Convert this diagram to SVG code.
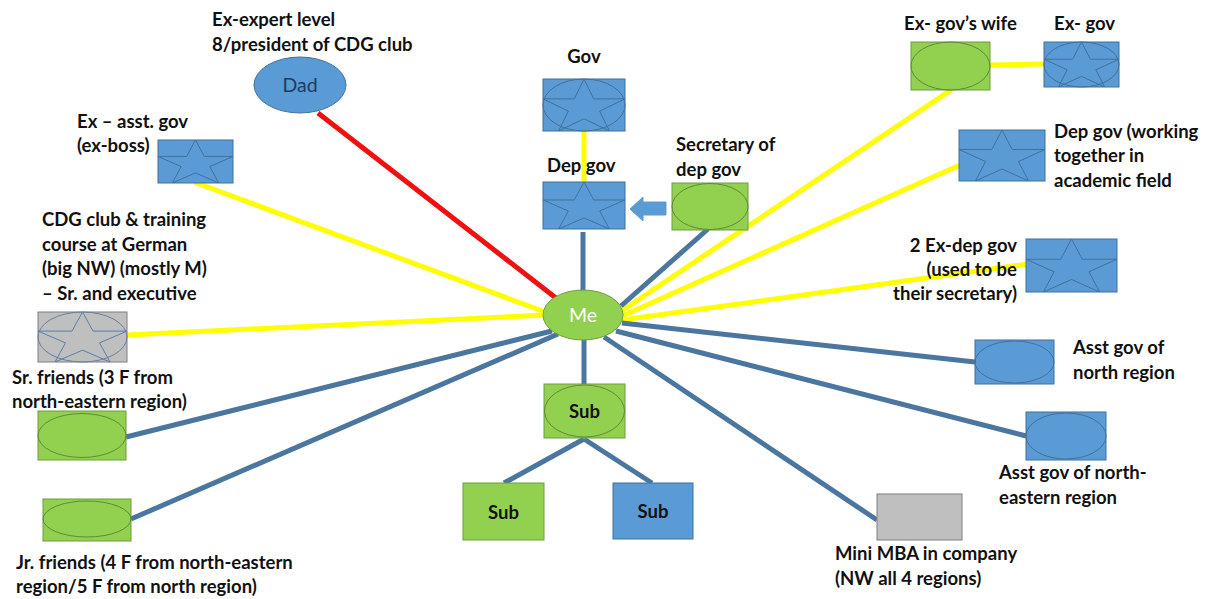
<svg xmlns="http://www.w3.org/2000/svg" xmlns:xlink="http://www.w3.org/1999/xlink" width="1208" height="599" viewBox="0 0 1208 599">
  <defs>
    <style>
      .lbl { font-family: "Lato", "Liberation Sans", sans-serif; font-weight: bold; font-size: 18.5px; fill: #111; }
      .blue { fill: #5B9BD5; stroke: #41719C; stroke-width: 1; }
      .green { fill: #92D050; stroke: #6E9C3E; stroke-width: 1; }
      .gray { fill: #BFBFBF; stroke: #7F7F7F; stroke-width: 1; }
      .oblue { fill: none; stroke: #41719C; stroke-width: 1; }
      .ogreen { fill: none; stroke: #5E8A3A; stroke-width: 1; }
      .ogray { fill: none; stroke: #6A7F9A; stroke-width: 1; }
      .y { stroke: #FFFF00; stroke-width: 5; }
      .b { stroke: #4A76A0; stroke-width: 5; }
      .r { stroke: #F01010; stroke-width: 5; }
    </style>
    <!-- five-point star stretched to fill its box -->
    <symbol id="star" viewBox="0 0 1 1" preserveAspectRatio="none">
      <path d="M0.5,0 L0.618,0.382 L1,0.382 L0.691,0.618 L0.809,1 L0.5,0.764 L0.191,1 L0.309,0.618 L0,0.382 L0.382,0.382 Z" fill="none" stroke="#41719C" stroke-width="1" vector-effect="non-scaling-stroke"/>
    </symbol>
    <symbol id="stargray" viewBox="0 0 1 1" preserveAspectRatio="none">
      <path d="M0.5,0 L0.618,0.382 L1,0.382 L0.691,0.618 L0.809,1 L0.5,0.764 L0.191,1 L0.309,0.618 L0,0.382 L0.382,0.382 Z" fill="none" stroke="#5A7FA8" stroke-width="1" vector-effect="non-scaling-stroke"/>
    </symbol>
  </defs>

  <rect width="1208" height="599" fill="#FFFFFF"/>

  <!-- connectors -->
  <g id="connectors" fill="none">
    <line class="r" x1="318" y1="113" x2="556" y2="298"/>
    <line class="y" x1="194" y1="182" x2="545" y2="312"/>
    <line class="y" x1="127" y1="335" x2="545" y2="315"/>
    <line class="y" x1="584" y1="131" x2="584" y2="183"/>
    <line class="y" x1="990" y1="65" x2="1044" y2="64"/>
    <line class="y" x1="951" y1="90" x2="620" y2="312"/>
    <line class="y" x1="960" y1="165" x2="622" y2="316"/>
    <line class="y" x1="1028" y1="264" x2="622" y2="320"/>
    <line class="b" x1="583" y1="232" x2="583" y2="292"/>
    <line class="b" x1="708" y1="229" x2="621" y2="306"/>
    <line class="b" x1="126" y1="437" x2="552" y2="331"/>
    <line class="b" x1="131" y1="519" x2="558" y2="334"/>
    <line class="b" x1="584" y1="338" x2="584" y2="384"/>
    <line class="b" x1="584" y1="439" x2="504" y2="483"/>
    <line class="b" x1="584" y1="439" x2="652" y2="483"/>
    <line class="b" x1="622" y1="323" x2="975" y2="362"/>
    <line class="b" x1="616" y1="331" x2="1026" y2="436"/>
    <line class="b" x1="604" y1="337" x2="877" y2="520"/>
    <!-- block arrow from secretary to dep gov -->
    <path d="M666,202 L643,202 L643,197 L630,209 L643,221 L643,215 L666,215 Z" fill="#5B9BD5" stroke="#5B9BD5"/>
  </g>

  <g id="dad">
    <ellipse cx="300" cy="85" rx="46" ry="28" class="blue"/>
    <text x="300" y="92" text-anchor="middle" font-family="Lato, 'Liberation Sans', sans-serif" font-size="19.5" fill="#1F3A5F">Dad</text>
    <text class="lbl" x="212" y="26">Ex-expert level</text>
    <text class="lbl" x="212" y="51">8/president of CDG club</text>
  </g>

  <g id="ex-asst-gov">
    <rect x="158" y="140" width="75" height="43" class="blue"/>
    <use xlink:href="#star" x="158" y="140" width="75" height="43"/>
    <text class="lbl" x="77" y="128">Ex – asst. gov</text>
    <text class="lbl" x="77" y="152">(ex-boss)</text>
  </g>

  <g id="cdg-club">
    <rect x="38" y="312" width="89" height="50" class="gray"/>
    <ellipse cx="82.5" cy="337" rx="44.5" ry="25" class="ogray"/>
    <use xlink:href="#stargray" x="38" y="312" width="89" height="50"/>
    <text class="lbl" x="42" y="226">CDG club &amp; training</text>
    <text class="lbl" x="42" y="251">course at German</text>
    <text class="lbl" x="42" y="275">(big NW) (mostly M)</text>
    <text class="lbl" x="42" y="300">– Sr. and executive</text>
  </g>

  <g id="sr-friends">
    <rect x="38" y="411" width="88" height="49" class="green"/>
    <ellipse cx="82" cy="435.5" rx="44" ry="22" class="ogreen"/>
    <text class="lbl" x="12" y="384">Sr. friends (3 F from</text>
    <text class="lbl" x="12" y="408">north-eastern region)</text>
  </g>

  <g id="jr-friends">
    <rect x="43" y="499" width="88" height="42" class="green"/>
    <ellipse cx="87" cy="519" rx="44" ry="18" class="ogreen"/>
    <text class="lbl" x="16" y="569">Jr. friends (4 F from north-eastern</text>
    <text class="lbl" x="16" y="593">region/5 F from north region)</text>
  </g>

  <g id="gov">
    <rect x="543" y="79" width="82" height="52" class="blue"/>
    <ellipse cx="584" cy="105" rx="41" ry="26" class="oblue"/>
    <use xlink:href="#star" x="543" y="79" width="82" height="52"/>
    <text class="lbl" x="584" y="63" text-anchor="middle">Gov</text>
  </g>

  <g id="dep-gov">
    <rect x="543" y="182" width="82" height="47" class="blue"/>
    <use xlink:href="#star" x="543" y="182" width="82" height="47"/>
    <text class="lbl" x="547" y="172">Dep gov</text>
  </g>

  <g id="secretary">
    <rect x="672" y="183" width="76" height="47" class="green"/>
    <ellipse cx="710" cy="206.5" rx="38" ry="23" class="ogreen"/>
    <text class="lbl" x="676" y="151">Secretary of</text>
    <text class="lbl" x="676" y="176">dep gov</text>
  </g>

  <g id="ex-gov-wife">
    <rect x="911" y="42" width="79" height="48" class="green"/>
    <ellipse cx="950.5" cy="66" rx="39.5" ry="24" class="ogreen"/>
    <text class="lbl" x="904" y="30">Ex- gov’s wife</text>
  </g>

  <g id="ex-gov">
    <rect x="1044" y="42" width="75" height="45" class="blue"/>
    <ellipse cx="1081.5" cy="64.5" rx="37.5" ry="22.5" class="oblue"/>
    <use xlink:href="#star" x="1044" y="42" width="75" height="45"/>
    <text class="lbl" x="1054" y="30">Ex- gov</text>
  </g>

  <g id="dep-gov-academic">
    <rect x="959" y="130" width="86" height="51" class="blue"/>
    <use xlink:href="#star" x="959" y="130" width="86" height="51"/>
    <text class="lbl" x="1054" y="138">Dep gov (working</text>
    <text class="lbl" x="1054" y="162">together in</text>
    <text class="lbl" x="1054" y="187">academic field</text>
  </g>

  <g id="ex-dep-gov">
    <rect x="1026" y="239" width="91" height="53" class="blue"/>
    <use xlink:href="#star" x="1026" y="239" width="91" height="53"/>
    <text class="lbl" x="1017" y="252" text-anchor="end">2 Ex-dep gov</text>
    <text class="lbl" x="1017" y="276" text-anchor="end">(used to be</text>
    <text class="lbl" x="1017" y="300" text-anchor="end">their secretary)</text>
  </g>

  <g id="asst-gov-north">
    <rect x="975" y="340" width="79" height="44" class="blue"/>
    <ellipse cx="1014.5" cy="362" rx="39.5" ry="21" class="oblue"/>
    <text class="lbl" x="1073" y="354">Asst gov of</text>
    <text class="lbl" x="1073" y="379">north region</text>
  </g>

  <g id="asst-gov-ne">
    <rect x="1026" y="412" width="80" height="48" class="blue"/>
    <ellipse cx="1066" cy="436" rx="40" ry="23" class="oblue"/>
    <text class="lbl" x="999" y="479">Asst gov of north-</text>
    <text class="lbl" x="999" y="504">eastern region</text>
  </g>

  <g id="mini-mba">
    <rect x="877" y="494" width="85" height="46" class="gray"/>
    <text class="lbl" x="835" y="560">Mini MBA in company</text>
    <text class="lbl" x="835" y="585">(NW all 4 regions)</text>
  </g>

  <g id="me">
    <ellipse cx="583" cy="315" rx="40" ry="25" class="green"/>
    <text x="583" y="322" text-anchor="middle" font-family="Lato, 'Liberation Sans', sans-serif" font-size="19.5" fill="#FFFFFF">Me</text>
  </g>

  <g id="sub-main">
    <rect x="544" y="384" width="81" height="54" class="green"/>
    <ellipse cx="584.5" cy="411" rx="40" ry="26" class="ogreen"/>
    <text class="lbl" x="584.5" y="418" text-anchor="middle" font-size="19">Sub</text>
  </g>

  <g id="sub-left">
    <rect x="463" y="483" width="81" height="57" class="green"/>
    <text class="lbl" x="503.5" y="519" text-anchor="middle" font-size="19">Sub</text>
  </g>

  <g id="sub-right">
    <rect x="613" y="483" width="80" height="56" class="blue"/>
    <text class="lbl" x="653" y="518" text-anchor="middle" font-size="19" fill="#0E1A2E">Sub</text>
  </g>
</svg>
